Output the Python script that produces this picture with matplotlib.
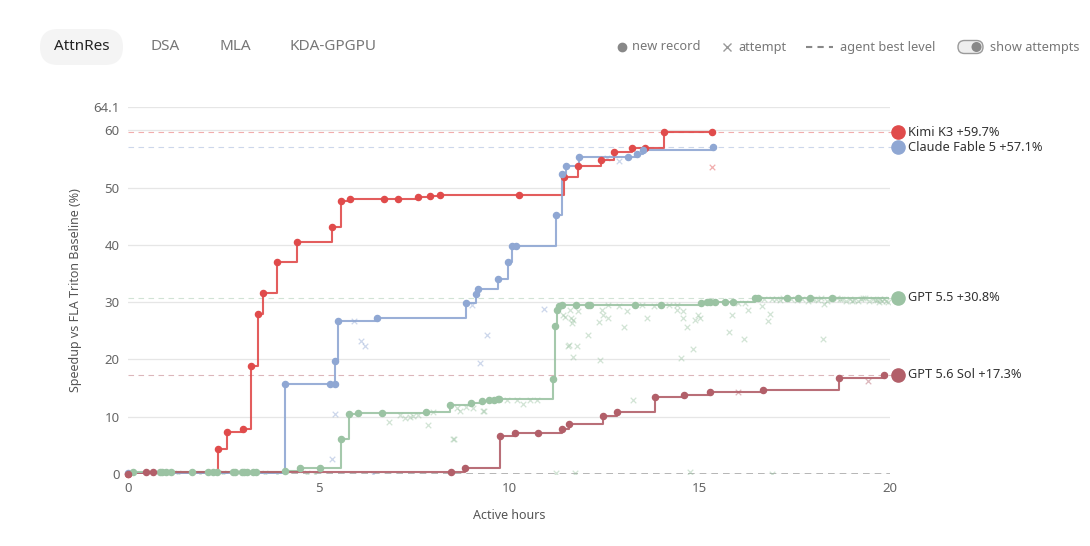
import matplotlib
matplotlib.use("Agg")
import matplotlib.pyplot as plt
from matplotlib.patches import FancyBboxPatch, Circle

plt.rcParams['font.family'] = ['Noto Sans', 'DejaVu Sans']

# ---- data (hours, speedup %) ----
tabs = ["AttnRes", "DSA", "MLA", "KDA-GPGPU"]
y_ticks = [0, 10, 20, 30, 40, 50, 60, 64.1]
y_tick_labels = ["0", "10", "20", "30", "40", "50", "60", "64.1"]
x_ticks = [0, 5, 10, 15, 20]

kimi_x = [0, 2.37, 2.61, 3.01, 3.22, 3.41, 3.54, 3.91, 4.44, 5.35, 5.59, 5.83, 6.72, 7.09,
          7.61, 7.93, 8.19, 10.25, 11.44, 11.80, 12.41, 12.76, 13.23, 13.56, 14.06, 15.33]
kimi_y = [0, 4.4, 7.4, 7.8, 18.8, 27.9, 31.7, 37.0, 40.6, 43.1, 47.6, 48.1, 48.1, 48.1,
          48.3, 48.5, 48.7, 48.7, 51.9, 53.8, 54.8, 56.3, 57.0, 57.0, 59.7, 59.7]
kimi_att_x = [15.33]
kimi_att_y = [53.7]

claude_x = [0, 4.12, 5.30, 5.43, 5.44, 5.51, 6.54, 8.88, 9.13, 9.19, 9.71, 9.97, 10.08,
            10.18, 11.23, 11.39, 11.50, 11.85, 13.12, 13.36, 13.51, 15.35]
claude_y = [0.1, 15.7, 15.7, 15.7, 19.8, 26.7, 27.3, 29.8, 31.4, 32.3, 34.0, 37.0, 39.8,
            39.8, 45.2, 52.4, 53.8, 55.3, 55.3, 55.9, 56.6, 57.1]
claude_att_x = [5.35, 5.43, 5.92, 6.11, 6.21, 6.43, 9.04, 9.24, 9.41, 10.93, 12.58, 12.90]
claude_att_y = [2.6, 10.5, 26.7, 23.3, 22.3, 0.0, 29.5, 19.3, 24.3, 28.9, 55.2, 54.7]

gpt55_x = [0.14, 0.84, 0.88, 1.01, 1.12, 1.67, 2.11, 2.24, 2.33, 2.75, 2.81, 2.98, 3.04,
           3.12, 3.29, 3.36, 4.12, 4.51, 5.04, 5.58, 5.81, 6.03, 6.67, 7.82, 8.45, 9.00,
           9.28, 9.48, 9.61, 9.72, 9.75, 11.16, 11.20, 11.25, 11.30, 11.38, 11.75, 12.08,
           12.13, 13.30, 13.98, 15.04, 15.19, 15.28, 15.41, 15.67, 15.89, 16.46, 16.54,
           17.29, 17.58, 17.90, 18.49]
gpt55_y = [0.4, 0.4, 0.4, 0.4, 0.4, 0.4, 0.4, 0.4, 0.4, 0.4, 0.4, 0.4, 0.4,
           0.4, 0.4, 0.4, 0.5, 1.0, 1.1, 6.1, 10.4, 10.6, 10.6, 10.9, 12.1, 12.4,
           12.7, 13.0, 13.0, 13.1, 13.1, 16.6, 25.8, 28.6, 29.4, 29.6, 29.6, 29.6,
           29.6, 29.6, 29.6, 29.9, 30.0, 30.0, 30.0, 30.0, 30.0, 30.75, 30.75,
           30.75, 30.8, 30.8, 30.8]
gpt55_end = 19.95
gpt55_att_x = [0.5, 1.3, 1.9, 2.5, 3.2, 3.6, 3.9, 4.7, 4.9, 6.86, 7.14, 7.27, 7.40, 7.49,
               7.62, 7.88, 8.01, 8.54, 8.56, 8.63, 8.71, 8.86, 9.06, 9.33, 9.35, 9.94,
               10.20, 10.38, 10.55, 10.73, 11.23, 11.43, 11.47, 11.56, 11.58, 11.60,
               11.62, 11.66, 11.67, 11.69, 11.73, 11.78, 11.82, 12.08, 12.37, 12.39,
               12.43, 12.47, 12.59, 13.03, 13.11, 13.25, 13.61, 14.42, 14.51, 14.56,
               14.57, 14.66, 14.75, 14.84, 14.88, 14.97, 15.00, 15.78, 15.84, 16.17,
               16.28, 16.63, 16.81, 16.85, 16.89, 18.23, 18.27,
               12.6, 12.9, 13.5, 13.8, 14.2, 14.4, 16.0, 16.2, 16.9, 17.1, 17.4, 17.7,
               17.85, 18.0, 18.1, 18.35, 18.6, 18.75, 18.85, 18.95, 19.05, 19.15,
               19.25, 19.35, 19.45, 19.55, 19.6, 19.7, 19.75, 19.8, 19.85, 19.9, 19.95,
               16.7, 17.0, 17.2, 17.55, 17.95, 18.2, 18.45, 18.7, 19.0, 19.3, 19.65]
gpt55_att_y = [0.1, 0.1, 0.0, 0.1, 0.0, 0.1, 0.0, 0.1, 0.0, 9.0, 10.3, 9.7, 10.0, 10.1,
               10.3, 8.6, 10.9, 6.2, 6.2, 11.5, 11.0, 11.7, 11.6, 11.0, 11.0, 12.9,
               12.9, 12.3, 12.9, 12.9, 0.1, 27.7, 27.5, 22.4, 22.5, 28.6,
               27.3, 26.4, 20.5, 26.9, 0.1, 22.4, 28.5, 24.2, 26.6, 19.9,
               28.6, 27.7, 27.2, 25.7, 28.5, 13.0, 27.2, 28.6, 20.3, 27.2,
               28.5, 25.7, 0.4, 21.9, 26.9, 27.8, 27.3, 24.8, 27.8, 23.5,
               28.6, 29.3, 26.7, 27.9, 0.0, 23.5, 29.7,
               29.5, 29.4, 29.5, 29.3, 29.6, 29.5, 29.9, 29.8, 30.5, 30.4, 30.6, 30.5,
               30.3, 30.6, 30.4, 30.2, 30.7, 30.5, 30.3, 30.6, 30.4, 30.2,
               30.5, 30.7, 30.3, 30.6, 30.4, 30.1, 30.5, 30.3, 30.6, 30.2, 30.0,
               30.6, 30.5, 30.7, 30.4, 30.6, 30.7, 30.5, 30.6, 30.3, 30.7, 30.4]

sol_x = [0, 0.47, 0.66, 8.48, 8.85, 9.76, 10.15, 10.76, 11.39, 11.58, 12.46, 12.84, 13.83,
         14.59, 15.28, 16.66, 18.65, 19.83]
sol_y = [0, 0.35, 0.35, 0.35, 1.1, 6.7, 7.2, 7.2, 7.9, 8.8, 10.1, 10.8, 13.4,
         13.8, 14.4, 14.6, 16.7, 17.3]
sol_att_x = [16.02, 19.41]
sol_att_y = [14.4, 16.3]

agents = [
    ("Kimi K3", "+59.7%", 59.7, "#e04b4b", kimi_x, kimi_y, kimi_x[-1], kimi_att_x, kimi_att_y),
    ("Claude Fable 5", "+57.1%", 57.1, "#8fa7d3", claude_x, claude_y, claude_x[-1], claude_att_x, claude_att_y),
    ("GPT 5.5", "+30.8%", 30.8, "#9bc3a3", gpt55_x, gpt55_y, gpt55_end, gpt55_att_x, gpt55_att_y),
    ("GPT 5.6 Sol", "+17.3%", 17.3, "#b25f69", sol_x, sol_y, sol_x[-1], sol_att_x, sol_att_y),
]

W, H = 1090, 546
fig = plt.figure(figsize=(W / 100, H / 100), dpi=100)

# overlay in pixel units for the header widgets
bg = fig.add_axes([0, 0, 1, 1], zorder=0)
bg.set_xlim(0, W)
bg.set_ylim(H, 0)
bg.axis("off")

bg.add_patch(FancyBboxPatch((40, 29), 83, 36, boxstyle="round,pad=0,rounding_size=18",
                            fc="#f4f4f4", ec="none"))
tab_x = [82, 165, 235, 333]
for i, (t, tx) in enumerate(zip(tabs, tab_x)):
    bg.text(tx, 47, t, ha="center", va="center", fontsize=11,
            color="#222222" if i == 0 else "#777777", fontweight="medium" if i == 0 else "normal")

lg_col = "#777777"
lg_fs = 9.2
bg.plot([622], [47], "o", ms=6, color="#888888")
bg.text(632, 47, "new record", va="center", fontsize=lg_fs, color=lg_col)
bg.plot([727], [47], "x", ms=6, mew=1, color="#999999")
bg.text(738, 47, "attempt", va="center", fontsize=lg_fs, color=lg_col)
bg.plot([806, 833], [47, 47], ls=(0, (3, 2.5)), lw=1.5, color="#888888")
bg.text(840, 47, "agent best level", va="center", fontsize=lg_fs, color=lg_col)
bg.add_patch(FancyBboxPatch((958, 40.5), 25, 13, boxstyle="round,pad=0,rounding_size=6.5",
                            fc="#eeeeee", ec="#9a9a9a", lw=1))
bg.add_patch(Circle((976.5, 47), 5, fc="#888888", ec="none"))
bg.text(990, 47, "show attempts", va="center", fontsize=lg_fs, color=lg_col)

# main chart
ax = fig.add_axes([128 / W, 1 - 474 / H, (890 - 128) / W, (474 - 107) / H], zorder=1)
ax.patch.set_alpha(0)
ax.set_xlim(0, 20)
ax.set_ylim(0, 64.1)
for s in ax.spines.values():
    s.set_visible(False)
ax.set_yticks(y_ticks)
ax.set_yticklabels(y_tick_labels)
ax.set_xticks(x_ticks)
ax.tick_params(length=0, labelsize=9.5, labelcolor="#666666", pad=6)
ax.grid(axis="y", color="#e6e6e6", lw=0.9)
ax.set_axisbelow(True)
ax.set_xlabel("Active hours", fontsize=9, color="#555555", labelpad=10)
ax.set_ylabel("Speedup vs FLA Triton Baseline (%)", fontsize=9, color="#555555", labelpad=8)

ax.axhline(0, color="#aaaaaa", lw=1.2, ls=(0, (4, 3)), zorder=1)

for name, tag, best, col, xs, ys, xend, ax_x, ax_y in agents:
    ax.axhline(best, color=col, lw=0.8, ls=(0, (5, 4)), alpha=0.45, zorder=1,
               xmax=1.005, clip_on=False)
    ax.scatter(ax_x, ax_y, marker="x", s=16, lw=0.9, color=col, alpha=0.45, zorder=2)
    ax.plot(list(xs) + [xend], list(ys) + [ys[-1]], drawstyle="steps-post",
            color=col, lw=1.5, alpha=0.9, zorder=3)
    ax.plot(xs, ys, "o", ms=4.4, color=col, zorder=4, clip_on=False)

label_pos = {"Kimi K3": 59.7, "Claude Fable 5": 57.1, "GPT 5.5": 30.8, "GPT 5.6 Sol": 17.3}
for name, tag, best, col, *_ in agents:
    ypos = label_pos[name]
    ax.plot([20.21], [ypos], "o", ms=9.5, color=col, clip_on=False, zorder=5)
    ax.text(20.47, ypos, f"{name} {tag}", va="center", ha="left", fontsize=9.2,
            color="#333333", clip_on=False)

fig.savefig("out.png", dpi=100)
